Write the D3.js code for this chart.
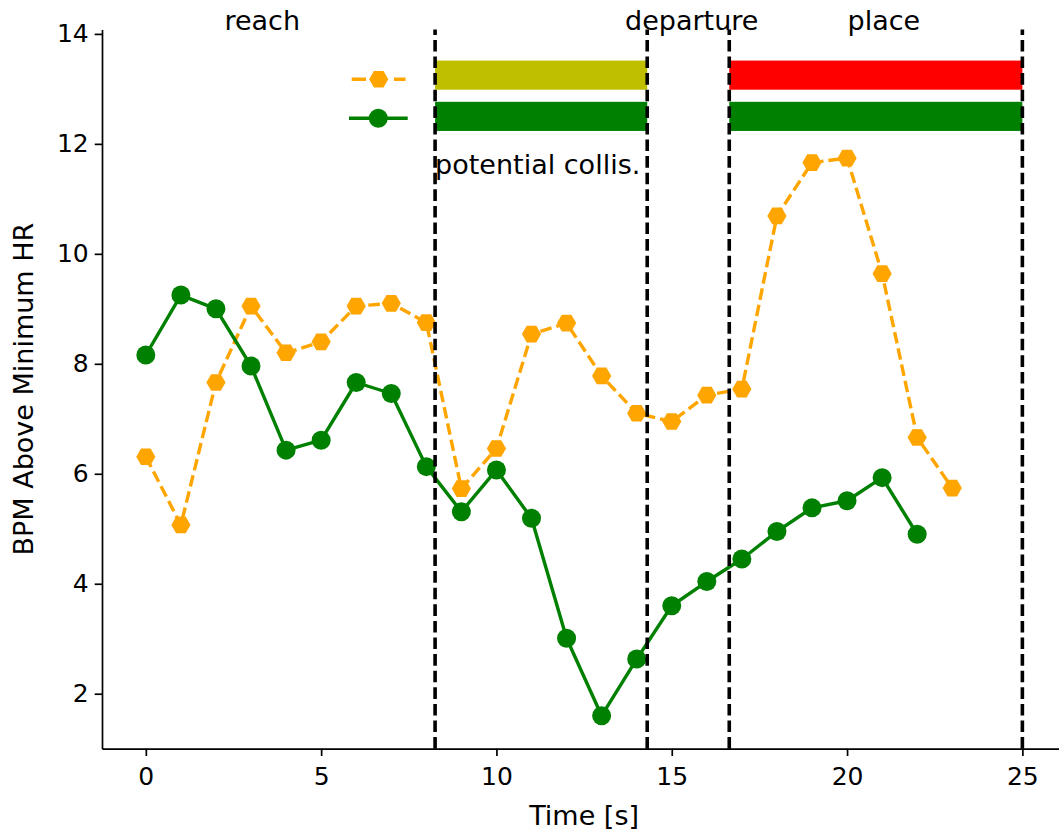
<!DOCTYPE html>
<html>
<head>
<meta charset="utf-8">
<script src="https://cdn.jsdelivr.net/npm/d3@7"></script>
<style>
    body { margin: 0; background: #fff; }
    svg { display: block; font-family: "DejaVu Sans", sans-serif; }
</style>
</head>
<body>
<svg width="1059" height="833"></svg>
<script>
// Seconds sampled, one per point.
var timeOrange = d3.range(0, 24);
var timeGreen = d3.range(0, 23);

// Heart rate above minimum for the two runs.
var bpmOrange = [6.31, 5.07, 7.66, 9.05, 8.2, 8.4, 9.05, 9.1, 8.75, 5.73,
    6.46, 8.54, 8.74, 7.78, 7.1, 6.95, 7.43, 7.54, 10.69, 11.66,
    11.74, 9.64, 6.66, 5.74];
var bpmGreen = [8.16, 9.25, 9.0, 7.96, 6.43, 6.61, 7.66, 7.46, 6.13, 5.31,
    6.07, 5.19, 3.01, 1.6, 2.63, 3.6, 4.04, 4.45, 4.95, 5.38,
    5.51, 5.93, 4.9];

// Phase boundaries (seconds) and their labels.
var phaseBounds = [8.25, 14.3, 16.64, 25.0];
var phaseNames = ["reach", "departure", "place"];
var phaseNameX = [3.32, 15.57, 21.05];

// Status bars: start, end, row level.
var barStart = [8.25, 8.25, 16.64, 16.64];
var barEnd = [14.3, 14.3, 25.0, 25.0];
var barLevel = [13.25, 12.5, 13.25, 12.5];
var barHalf = 0.265;

var xTicks = [0, 5, 10, 15, 20, 25];
var yTicks = [2, 4, 6, 8, 10, 12, 14];

var barColors = ["#bfbf00", "#008000", "#ff0000", "#008000"];
var ORANGE = "#ffa500";
var GREEN = "#008000";

var svg = d3.select("svg");

var x = d3.scaleLinear().domain([-1.25, 26.25]).range([102, 1066.2]);
var y = d3.scaleLinear().domain([1.0, 14.08]).range([748.7, 29.5]);

// Axes (left and bottom spines only).
var xAxis = svg.append("g")
    .attr("transform", "translate(0," + y.range()[0] + ")")
    .call(d3.axisBottom(x).tickValues(xTicks).tickSize(7.3).tickSizeOuter(0).tickPadding(11));
var yAxis = svg.append("g")
    .attr("transform", "translate(" + x.range()[0] + ",0)")
    .call(d3.axisLeft(y).tickValues(yTicks).tickSize(7.3).tickSizeOuter(0).tickPadding(6));

[xAxis, yAxis].forEach(function(ax) {
    ax.select(".domain").attr("stroke", "#000").attr("stroke-width", 1.7);
    ax.selectAll(".tick line").attr("stroke", "#000").attr("stroke-width", 1.7);
    ax.selectAll(".tick text").attr("fill", "#000").attr("font-size", 25)
        .attr("font-family", "DejaVu Sans");
});

svg.append("text")
    .attr("x", (x.range()[0] + x.range()[1]) / 2)
    .attr("y", 825)
    .attr("text-anchor", "middle")
    .attr("font-size", 27)
    .text("Time [s]");

svg.append("text")
    .attr("transform", "translate(33," + (y.range()[0] + y.range()[1]) / 2 + ") rotate(-90)")
    .attr("text-anchor", "middle")
    .attr("font-size", 27)
    .text("BPM Above Minimum HR");

// Series lines.
var line = d3.line()
    .x(function(d) { return x(d[0]); })
    .y(function(d) { return y(d[1]); });

var orangePts = d3.zip(timeOrange, bpmOrange);
var greenPts = d3.zip(timeGreen, bpmGreen);

function hexagon(r) {
    var pts = d3.range(6).map(function(i) {
        var a = i * Math.PI / 3;
        return [r * Math.cos(a), r * Math.sin(a)];
    });
    return "M" + pts.join("L") + "Z";
}

function drawSeries(g, pts, color, dashed, marker) {
    g.append("path")
        .attr("d", line(pts))
        .attr("fill", "none")
        .attr("stroke", color)
        .attr("stroke-width", 3.4)
        .attr("stroke-linejoin", "round")
        .attr("stroke-dasharray", dashed ? "11.6,5" : null);

    pts.forEach(function(p) {
        if (marker == "hex") {
            g.append("path")
                .attr("d", hexagon(9.6))
                .attr("transform", "translate(" + x(p[0]) + "," + y(p[1]) + ")")
                .attr("fill", color);
        } else {
            g.append("circle")
                .attr("cx", x(p[0]))
                .attr("cy", y(p[1]))
                .attr("r", 9.5)
                .attr("fill", color);
        }
    });
}

var plot = svg.append("g");
drawSeries(plot.append("g"), orangePts, ORANGE, true, "hex");
drawSeries(plot.append("g"), greenPts, GREEN, false, "circle");

// Status bars.
barStart.forEach(function(s, i) {
    plot.append("rect")
        .attr("x", x(s))
        .attr("width", x(barEnd[i]) - x(s))
        .attr("y", y(barLevel[i] + barHalf))
        .attr("height", y(barLevel[i] - barHalf) - y(barLevel[i] + barHalf))
        .attr("fill", barColors[i]);
});

// Phase boundaries.
phaseBounds.forEach(function(b) {
    plot.append("line")
        .attr("x1", x(b)).attr("x2", x(b))
        .attr("y1", y.range()[0]).attr("y2", y.range()[1])
        .attr("stroke", "#000")
        .attr("stroke-width", 3.6)
        .attr("stroke-dasharray", "11.6,5");
});

// Phase names along the top.
phaseNames.forEach(function(name, i) {
    svg.append("text")
        .attr("x", x(phaseNameX[i]))
        .attr("y", y(14.08))
        .attr("text-anchor", "middle")
        .attr("font-size", 27)
        .text(name);
});

svg.append("text")
    .attr("x", x(phaseBounds[0]))
    .attr("y", y(11.45))
    .attr("font-size", 27)
    .text("potential collis.");

// Legend handles, no labels.
var legend = svg.append("g");
legend.append("line")
    .attr("x1", 351.7).attr("x2", 405.7).attr("y1", 79.3).attr("y2", 79.3)
    .attr("stroke", ORANGE).attr("stroke-width", 3.4)
    .attr("stroke-dasharray", "14.3,28,11.6");
legend.append("path")
    .attr("d", hexagon(9.6))
    .attr("transform", "translate(378.7,79.3)")
    .attr("fill", ORANGE);
legend.append("line")
    .attr("x1", 349).attr("x2", 407.7).attr("y1", 118.3).attr("y2", 118.3)
    .attr("stroke", GREEN).attr("stroke-width", 3.4);
legend.append("circle")
    .attr("cx", 378.3).attr("cy", 118.3).attr("r", 9.5)
    .attr("fill", GREEN);
</script>
</body>
</html>
